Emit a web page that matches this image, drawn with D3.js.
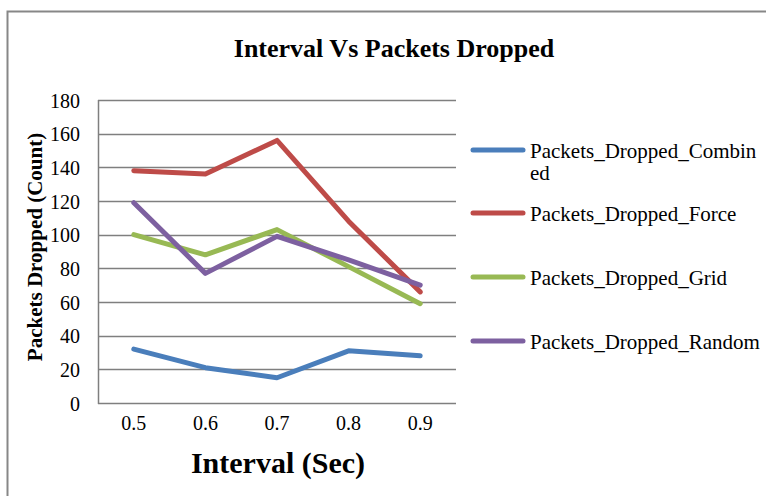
<!DOCTYPE html>
<html><head><meta charset="utf-8">
<script src="https://cdn.jsdelivr.net/npm/d3@7"></script>
<style>body{margin:0;background:#fff}svg{display:block}text{font-family:"Liberation Serif","Times New Roman","DejaVu Serif",serif !important;fill:#000}</style>
</head><body><svg id="c" width="766" height="496"></svg>
<script>
const categories = ["0.5","0.6","0.7","0.8","0.9"];
const seriesNames = ["Packets_Dropped_Combined","Packets_Dropped_Force","Packets_Dropped_Grid","Packets_Dropped_Random"];
const combined = [32,21,15,31,28];
const force = [138,136,156,108,66];
const grid = [100,88,103,81,59];
const random = [119,77,99,85,70];
const yTicks = [0,20,40,60,80,100,120,140,160,180];
const colors = ["#4a7ebb","#be4b48","#98b954","#7d60a0"];
const seriesValues = [combined, force, grid, random];

const svg = d3.select("#c");
svg.append("rect").attr("x",7.5).attr("y",11.5).attr("width",800).attr("height",600)
  .attr("fill","none").attr("stroke","#878787").attr("stroke-width",2);

const L=98, R=456, T=100, B=403;
const x = d3.scaleBand().domain(categories).range([L,R]);
const y = d3.scaleLinear().domain([0,180]).range([B,T]);

svg.append("g").selectAll("line").data(yTicks).join("line")
  .attr("x1",L).attr("x2",R).attr("y1",d=>Math.round(y(d))+0.5).attr("y2",d=>Math.round(y(d))+0.5)
  .attr("stroke","#7f7f7f").attr("stroke-width",1.5);
svg.append("line").attr("x1",L+0.5).attr("x2",L+0.5).attr("y1",T).attr("y2",B+1)
  .attr("stroke","#7f7f7f").attr("stroke-width",1.5);

const ya = svg.append("g").attr("transform",`translate(${L},0)`)
  .call(d3.axisLeft(y).tickValues(yTicks).tickSize(0).tickPadding(18));
ya.attr("font-family",null);
ya.select(".domain").remove();
ya.selectAll("text").attr("font-size",20).attr("dy","0.35em");

const xa = svg.append("g").attr("transform",`translate(0,${B})`)
  .call(d3.axisBottom(x).tickSize(0).tickPadding(20));
xa.attr("font-family",null);
xa.select(".domain").remove();
xa.selectAll("text").attr("font-size",20).attr("dy","0.35em");

const line = d3.line().x((d,i)=>x(categories[i])+x.bandwidth()/2).y(d=>y(d));
svg.append("g").selectAll("path").data(seriesValues).join("path")
  .attr("d",line).attr("fill","none").attr("stroke",(d,i)=>colors[i])
  .attr("stroke-width",5).attr("stroke-linejoin","round").attr("stroke-linecap","round");

svg.append("text").attr("x",394).attr("y",57).attr("text-anchor","middle")
  .attr("font-size",26).attr("font-weight","bold").text("Interval Vs Packets Dropped");
svg.append("text").attr("x",278).attr("y",473).attr("text-anchor","middle")
  .attr("font-size",30).attr("font-weight","bold").text("Interval (Sec)");
svg.append("text").attr("transform","translate(42,247) rotate(-90)").attr("text-anchor","middle")
  .attr("font-size",21).attr("font-weight","bold").text("Packets Dropped (Count)");

const legY = [150,213,277,341];
const lg = svg.append("g");
seriesNames.forEach((n,i)=>{
  lg.append("line").attr("x1",473).attr("x2",523).attr("y1",legY[i]).attr("y2",legY[i])
    .attr("stroke",colors[i]).attr("stroke-width",5).attr("stroke-linecap","round");
  const t = lg.append("text").attr("x",530).attr("y",legY[i]+8).attr("font-size",21);
  if (i===0) {
    t.append("tspan").attr("x",530).text("Packets_Dropped_Combin");
    t.append("tspan").attr("x",530).attr("dy",22).text("ed");
  } else t.text(n);
});
</script></body></html>
